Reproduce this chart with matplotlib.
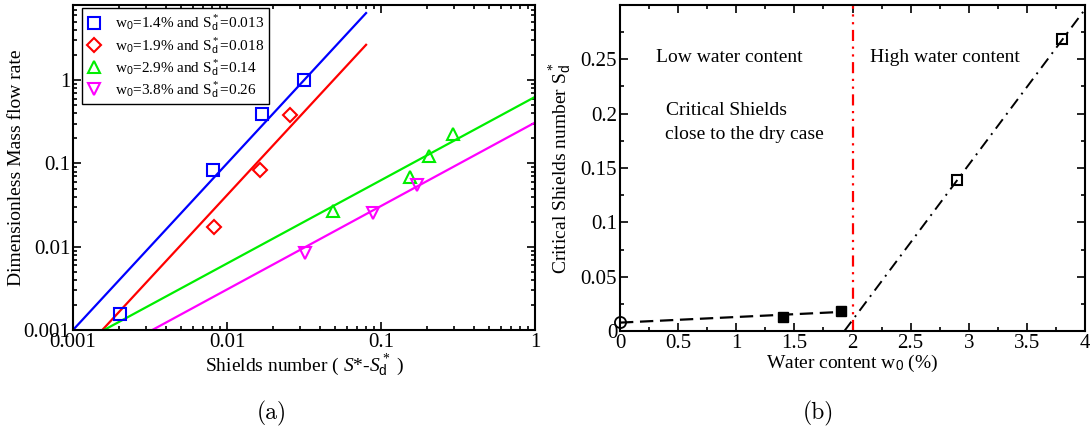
import matplotlib
matplotlib.use("Agg")
import matplotlib.pyplot as plt
from matplotlib.ticker import LogLocator, NullFormatter, FixedLocator, MultipleLocator

plt.rcParams['font.family'] = ['Liberation Serif', 'DejaVu Serif']
plt.rcParams['mathtext.fontset'] = 'custom'
plt.rcParams['mathtext.rm'] = 'Liberation Serif'
plt.rcParams['mathtext.it'] = 'Liberation Serif:italic'
plt.rcParams['mathtext.sf'] = 'Liberation Sans'
plt.rcParams['font.size'] = 14

# ---- panel (a): mass flow rate vs Shields number (log-log)
blue_x = [0.00202, 0.00817, 0.0170, 0.0315]
blue_y = [0.00154, 0.0832, 0.391, 1.0]
red_x = [0.0082, 0.0163, 0.0256]
red_y = [0.0171, 0.083, 0.38]
green_x = [0.0487, 0.154, 0.206, 0.292]
green_y = [0.027, 0.068, 0.122, 0.229]
magenta_x = [0.0323, 0.0881, 0.172]
magenta_y = [0.00847, 0.0256, 0.055]

# fitted lines (end points)
blue_fit_x = [0.001, 0.08]
blue_fit_y = [0.001, 6.4]
red_fit_x = [0.00155, 0.08]
red_fit_y = [0.001, 2.66]
green_fit_x = [0.00159, 1.0]
green_fit_y = [0.001, 0.63]
magenta_fit_x = [0.00327, 1.0]
magenta_fit_y = [0.001, 0.31]

labels_a = [r"w$_\mathsf{0}$=1.4% and S$^*_\mathsf{d}$=0.013",
            r"w$_\mathsf{0}$=1.9% and S$^*_\mathsf{d}$=0.018",
            r"w$_\mathsf{0}$=2.9% and S$^*_\mathsf{d}$=0.14",
            r"w$_\mathsf{0}$=3.8% and S$^*_\mathsf{d}$=0.26"]
ticks_a = [0.001, 0.01, 0.1, 1]
ticklabels_a = ['0.001', '0.01', '0.1', '1']

# ---- panel (b): critical Shields number vs water content
w_dry, s_dry = [0.0], [0.0083]
w_low, s_low = [1.4, 1.9], [0.0129, 0.0184]
w_high, s_high = [2.9, 3.8], [0.139, 0.269]
low_fit_x, low_fit_y = [0.0, 1.95], [0.0077, 0.0178]
high_fit_x, high_fit_y = [1.93, 4.0], [0.0, 0.296]
w_threshold = 2.0
xticks_b = [0, 0.5, 1, 1.5, 2, 2.5, 3, 3.5, 4]
xticklabels_b = ['0', '0.5', '1', '1.5', '2', '2.5', '3', '3.5', '4']
yticks_b = [0, 0.05, 0.1, 0.15, 0.2, 0.25]
yticklabels_b = ['0', '0.05', '0.1', '0.15', '0.2', '0.25']

fig = plt.figure(figsize=(10.9, 4.29), dpi=100)
ax1 = fig.add_axes([73/1090, 99/429, 462/1090, 325/429])
ax2 = fig.add_axes([620/1090, 98/429, 465/1090, 326/429])

blue, red, green, magenta = '#0000ff', '#ff0000', '#00ee00', '#ff00ff'
mk = dict(linestyle='none', markerfacecolor='none', markeredgewidth=1.5)
ax1.plot(blue_fit_x, blue_fit_y, color=blue, lw=1.6)
ax1.plot(red_fit_x, red_fit_y, color=red, lw=1.6)
ax1.plot(green_fit_x, green_fit_y, color=green, lw=1.6)
ax1.plot(magenta_fit_x, magenta_fit_y, color=magenta, lw=1.6)
ax1.plot(blue_x, blue_y, 's', color=blue, markersize=8.5, label=labels_a[0], **mk)
ax1.plot(red_x, red_y, 'D', color=red, markersize=7.5, label=labels_a[1], **mk)
ax1.plot(green_x, green_y, '^', color=green, markersize=9, label=labels_a[2], **mk)
ax1.plot(magenta_x, magenta_y, 'v', color=magenta, markersize=9, label=labels_a[3], **mk)

ax1.set_xscale('log')
ax1.set_yscale('log')
ax1.set_xlim(0.001, 1)
ax1.set_ylim(0.001, 8)
ax1.xaxis.set_major_locator(FixedLocator(ticks_a))
ax1.set_xticklabels(ticklabels_a)
ax1.yaxis.set_major_locator(FixedLocator(ticks_a))
ax1.set_yticklabels(ticklabels_a)
for axis in (ax1.xaxis, ax1.yaxis):
    axis.set_minor_locator(LogLocator(base=10, subs=range(2, 10), numticks=20))
    axis.set_minor_formatter(NullFormatter())
ax1.set_xlabel(r"Shields number ( $S$*-$S^*_\mathsf{d}$ )", labelpad=0)
ax1.set_ylabel("Dimensionless Mass flow rate")
ax1.yaxis.set_label_coords(-0.104, 0.5)

leg = ax1.legend(loc='upper left', bbox_to_anchor=(0.019, 0.99), borderaxespad=0,
                 fontsize=11, handlelength=1.0, handletextpad=0.9, labelspacing=0.1,
                 fancybox=False, framealpha=1, edgecolor='black', borderpad=0.3)
leg.get_frame().set_linewidth(1.0)

# panel (b)
ax2.plot(low_fit_x, low_fit_y, color='black', lw=1.6, dashes=(6, 3))
ax2.plot(high_fit_x, high_fit_y, color='black', lw=1.4, dashes=(6, 3, 1, 3))
ax2.axvline(w_threshold, color=red, lw=1.6, dashes=(5, 2.5, 1, 2.5, 1, 2.5))
ax2.plot(w_dry, s_dry, 'o', color='black', markersize=8, markerfacecolor='none',
         markeredgewidth=1.3, clip_on=False)
ax2.plot(w_low, s_low, 's', color='black', markersize=7)
ax2.plot(w_high, s_high, 's', color='black', markersize=7.5, markerfacecolor='none',
         markeredgewidth=1.5)

ax2.text(0.306, 0.248, "Low water content")
ax2.text(2.147, 0.248, "High water content")
ax2.text(0.393, 0.199, "Critical Shields")
ax2.text(0.387, 0.177, "close to the dry case")

ax2.set_xlim(0, 4)
ax2.set_ylim(0, 0.3)
ax2.xaxis.set_major_locator(FixedLocator(xticks_b))
ax2.set_xticklabels(xticklabels_b)
ax2.xaxis.set_minor_locator(MultipleLocator(0.25))
ax2.yaxis.set_major_locator(FixedLocator(yticks_b))
ax2.set_yticklabels(yticklabels_b)
ax2.yaxis.set_minor_locator(MultipleLocator(0.025))
ax2.set_xlabel(r"Water content w$_\mathsf{0}$ (%)", labelpad=0)
ax2.set_ylabel(r"Critical Shields number S$^*_\mathsf{d}$")
ax2.yaxis.set_label_coords(-0.099, 0.5)

for ax in (ax1, ax2):
    for s in ax.spines.values():
        s.set_linewidth(1.5)
    ax.tick_params(which='both', direction='in', top=True, right=True, width=1.2,
                   labelsize=15)
    ax.tick_params(which='major', length=5.5, pad=2)
    ax.tick_params(which='minor', length=3)

fig.text(272/1090, 1 - 413/429, "(a)", family='cmr10', fontsize=17, ha='center', va='center')
fig.text(818/1090, 1 - 413/429, "(b)", family='cmr10', fontsize=17, ha='center', va='center')

fig.savefig("out.png", dpi=100)
